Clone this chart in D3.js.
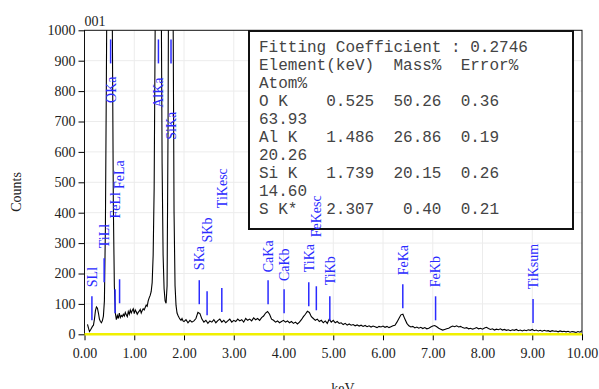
<!DOCTYPE html>
<html>
<head>
<meta charset="utf-8">
<script src="https://cdn.jsdelivr.net/npm/d3@7"></script>
<style>
  body { margin: 0; background: #fff; }
  svg { display: block; }
  .tick text { font-family: "Liberation Serif", "Times New Roman", serif; font-size: 14px; fill: #222; }
  .peakLabel { font-family: "Liberation Serif", "Times New Roman", serif; font-size: 14px; fill: #2a2aff; }
  .boxText { font-family: "Liberation Mono", "Courier New", monospace; font-size: 16px; fill: #444; white-space: pre; }
</style>
</head>
<body>
<svg id="chart"></svg>
<script>
/* EDS spectrum: counts vs keV, peak markers and fitting table */

const width = 599, height = 389;

// spectrum 0 - 2 keV as [keV, counts]
const spectrumLow = [
  [0.06,33],[0.08,20],[0.10,9],[0.12,14],[0.14,20],[0.16,26],[0.18,30],[0.20,50],
  [0.22,78],[0.24,90],[0.26,86],[0.28,70],[0.30,50],[0.32,42],[0.34,38],[0.36,45],
  [0.38,60],[0.40,110],[0.42,350],[0.44,850],[0.46,1400],[0.48,2200],[0.50,2900],[0.52,3100],
  [0.54,2500],[0.56,1000],[0.58,420],[0.60,160],[0.62,70],[0.64,48],[0.66,62],[0.68,52],
  [0.70,70],[0.72,55],[0.74,62],[0.76,58],[0.78,66],[0.80,60],[0.82,72],[0.84,64],
  [0.86,58],[0.88,75],[0.90,66],[0.92,80],[0.94,70],[0.96,78],[0.98,84],[1.00,68],
  [1.02,80],[1.04,74],[1.06,66],[1.08,72],[1.10,76],[1.12,82],[1.14,70],[1.16,78],
  [1.18,84],[1.20,80],[1.22,88],[1.24,96],[1.26,92],[1.28,110],[1.30,120],[1.32,128],
  [1.34,140],[1.36,170],[1.38,260],[1.40,480],[1.42,1000],[1.44,1900],[1.46,2800],[1.48,3200],
  [1.50,3000],[1.52,2200],[1.54,1200],[1.56,560],[1.58,260],[1.60,150],[1.62,110],[1.64,102],
  [1.66,160],[1.68,700],[1.70,1700],[1.72,2500],[1.74,2800],[1.76,2300],[1.78,1100],[1.80,400],
  [1.82,160],[1.84,95],[1.86,70],[1.88,62],[1.90,55],[1.92,50],[1.94,46],[1.96,52],[1.98,44]
];

// spectrum 2.00 - 10.00 keV, one value every 0.04 keV (one row per keV)
const highStart = 2.0, highStep = 0.04;
const spectrumHigh = [
  42,48,38,46,40,44,52,72,68,50,40,46,36,44,40,48,38,45,50,40,46,38,44,50,40,
  46,42,50,44,48,40,52,46,50,44,54,48,52,46,55,60,70,75,66,50,46,40,44,38,42,
  46,40,44,38,42,36,40,34,40,48,58,66,76,72,58,52,46,50,42,46,38,44,36,50,40,
  46,38,42,36,38,32,36,30,34,30,32,28,31,27,30,26,29,25,28,24,27,25,22,26,24,
  27,23,26,22,25,28,30,40,52,64,66,50,36,28,24,26,21,24,20,23,19,22,18,20,24,
  27,29,25,20,17,14,16,18,20,24,27,25,28,24,26,22,20,22,18,20,17,19,22,18,20,
  17,21,23,19,16,18,14,17,15,18,14,16,13,15,12,15,13,16,12,14,11,14,12,15,13,
  16,12,14,11,13,10,13,11,12,9,12,10,11,8,11,9,10,8,10,7,9,8,6,9,7,
  12
];

// peak markers
const markerNames = ["SLl","TiLl","FeLl","FeLa","OKa","AlKa","SiKa","SKa","SKb","TiKesc",
                     "CaKa","CaKb","TiKa","FeKesc","TiKb","FeKa","FeKb","TiKsum"];
const markerKeV   = [0.149,0.395,0.615,0.705,0.525,1.486,1.739,2.307,2.464,2.76,
                     3.69,4.012,4.508,4.66,4.931,6.398,7.057,9.016];
const markerTop   = [125,250,148,181,970,970,970,178,142,152,
                     178,148,171,158,125,165,125,116];
const markerLabelAt = [155,283,381,478,761,745,640,211,302,415,
                       204,175,204,319,161,194,155,148];

// fitting table
const tableLines = [
  "Fitting Coefficient : 0.2746",
  "Element(keV)  Mass%  Error%",
  "Atom%",
  "O K    0.525  50.26  0.36",
  "63.93",
  "Al K   1.486  26.86  0.19",
  "20.26",
  "Si K   1.739  20.15  0.26",
  "14.60",
  "S K*   2.307   0.40  0.21"
];

const xTicks = d3.range(0, 10.01, 1);
const yTicks = d3.range(0, 1001, 100);

const spectrum = spectrumLow.concat(spectrumHigh.map((c, i) => [highStart + i * highStep, c]));

const svg = d3.select("#chart").attr("width", width).attr("height", height);

const x = d3.scaleLinear().domain([0, 10]).range([84.5, 582]);
const y = d3.scaleLinear().domain([0, 1000]).range([334.3, 30.3]);

svg.append("defs").append("clipPath").attr("id", "plotClip")
  .append("rect")
    .attr("x", x(0)).attr("y", y(1000))
    .attr("width", x(10) - x(0)).attr("height", y(0) - y(1000));

// faint grid
const gridG = svg.append("g");
gridG.selectAll("line.vg").data(xTicks.slice(1, -1)).join("line")
  .attr("x1", d => x(d)).attr("x2", d => x(d))
  .attr("y1", y(0)).attr("y2", y(1000))
  .attr("stroke", "#ececec");
gridG.selectAll("line.hg").data(yTicks.slice(1, -1)).join("line")
  .attr("x1", x(0)).attr("x2", x(10))
  .attr("y1", d => y(d)).attr("y2", d => y(d))
  .attr("stroke", "#ececec");

// frame
svg.append("rect")
  .attr("x", x(0)).attr("y", y(1000))
  .attr("width", x(10) - x(0)).attr("height", y(0) - y(1000))
  .attr("fill", "none").attr("stroke", "#111").attr("stroke-width", 1);

// axes
const yAxis = d3.axisLeft(y).tickValues(yTicks).tickSize(6).tickPadding(3).tickFormat(d3.format("d"));
const xAxis = d3.axisBottom(x).tickValues(xTicks).tickSize(6).tickPadding(8).tickFormat(d3.format(".2f"));

svg.append("g").attr("transform", `translate(${x(0)},0)`).call(yAxis)
  .call(g => g.select(".domain").remove());
svg.append("g").attr("transform", `translate(0,${y(0)})`).call(xAxis)
  .call(g => g.select(".domain").remove());

// zero baseline
svg.append("line")
  .attr("x1", x(0)).attr("x2", x(10))
  .attr("y1", y(0)).attr("y2", y(0))
  .attr("stroke", "#f0f000").attr("stroke-width", 2.5);

// spectrum
const line = d3.line().x(d => x(d[0])).y(d => y(d[1]));
svg.append("path")
  .datum(spectrum)
  .attr("clip-path", "url(#plotClip)")
  .attr("d", line)
  .attr("fill", "none")
  .attr("stroke", "#000")
  .attr("stroke-width", 1.1);

// fitting table box
const boxG = svg.append("g");
boxG.append("rect")
  .attr("x", 249).attr("y", 31).attr("width", 324).attr("height", 198)
  .attr("fill", "#fff").attr("stroke", "#111").attr("stroke-width", 2);
boxG.selectAll("text").data(tableLines).join("text")
  .attr("class", "boxText")
  .attr("xml:space", "preserve")
  .attr("x", 259)
  .attr("y", (d, i) => 52 + i * 18)
  .text(d => d);

// peak markers
const markers = markerNames.map((n, i) => ({
  name: n, kev: markerKeV[i], top: markerTop[i], label: markerLabelAt[i]
}));
const mG = svg.append("g");
mG.selectAll("line").data(markers).join("line")
  .attr("x1", d => x(d.kev)).attr("x2", d => x(d.kev))
  .attr("y1", d => y(d.top)).attr("y2", d => y(d.top) + 24)
  .attr("stroke", "#2a2aff").attr("stroke-width", 1.5);
mG.selectAll("text").data(markers).join("text")
  .attr("class", "peakLabel")
  .attr("transform", d => `translate(${x(d.kev)},${y(d.label)}) rotate(-90)`)
  .attr("dy", "0.35em")
  .text(d => d.name);

// titles
const serif = "'Liberation Serif', 'Times New Roman', serif";
svg.append("text")
  .attr("x", x(0)).attr("y", 26)
  .attr("font-family", serif).attr("font-size", 14).attr("fill", "#222")
  .text("001");
svg.append("text")
  .attr("transform", "translate(21,192) rotate(-90)")
  .attr("text-anchor", "middle")
  .attr("font-family", serif).attr("font-size", 14).attr("fill", "#222")
  .text("Counts");
svg.append("text")
  .attr("x", 343).attr("y", 393)
  .attr("text-anchor", "middle")
  .attr("font-family", serif).attr("font-size", 14).attr("fill", "#222")
  .text("keV");
</script>
</body>
</html>
